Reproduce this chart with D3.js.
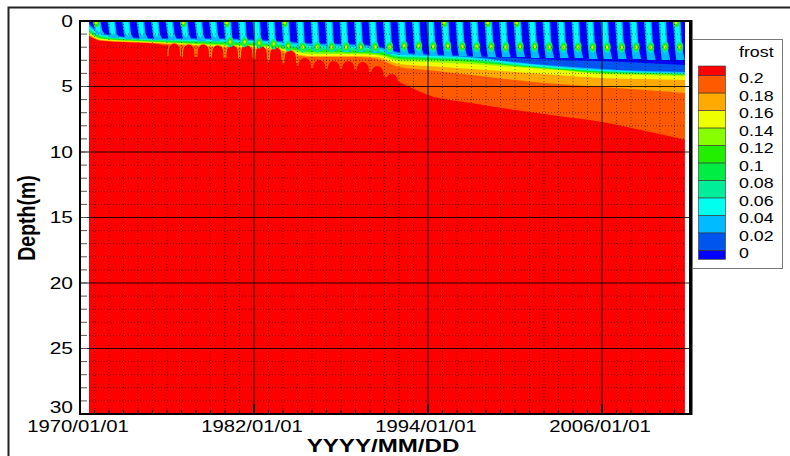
<!DOCTYPE html>
<html>
<head>
<meta charset="utf-8">
<title>frost</title>
<script src="https://cdn.jsdelivr.net/npm/d3@7"></script>
<style>
  body { margin: 0; background: #fff; }
  svg { display: block; font-family: "Liberation Sans", Arial, Helvetica, sans-serif; }
</style>
</head>
<body>
<svg id="chart" width="790" height="456"></svg>
<script>

// contour levels of frost, and fill colours below 0 ... above 0.2
const levels = [0, 0.02, 0.04, 0.06, 0.08, 0.1, 0.12, 0.14, 0.16, 0.18, 0.2]
const levelLabels = ['0', '0.02', '0.04', '0.06', '0.08', '0.1', '0.12', '0.14', '0.16', '0.18', '0.2']
const bandColors = ['#0000ff', '#0055ee', '#00bbff', '#00ffee', '#00ee99', '#00ee44',
    '#22ee00', '#88ff00', '#eeff00', '#ffaa00', '#ff5a00', '#ff0000']

const xTickYears = [1970, 1982, 1994, 2006]
const xTickLabels = ['1970/01/01', '1982/01/01', '1994/01/01', '2006/01/01']
const yTicks = [0, 5, 10, 15, 20, 25, 30]

// simulated period, decimal years
const dataStart = 1970.62
const dataEnd = 2011.72

// depth (m) of each contour line under the frozen top layer, read at these dates
const sampleYears = [1970.6, 1971.5, 1975, 1979, 1983, 1986, 1989, 1990.5, 1992, 1994, 1997, 2000, 2003, 2006, 2009, 2011.75]
const iso000 = [0.08, 0.92, 1.30, 1.30, 1.45, 1.68, 1.76, 1.91, 2.37, 2.52, 2.67, 2.82, 2.98, 3.05, 3.21, 3.36]
const iso002 = [0.23, 0.99, 1.37, 1.37, 1.53, 1.76, 1.83, 1.98, 2.44, 2.60, 2.75, 3.13, 3.44, 3.66, 3.82, 3.89]
const iso004 = [0.38, 1.07, 1.41, 1.45, 1.60, 1.91, 1.98, 2.14, 2.60, 2.67, 2.82, 3.21, 3.51, 3.74, 3.89, 3.97]
const iso006 = [0.53, 1.15, 1.45, 1.53, 1.68, 1.98, 2.06, 2.21, 2.67, 2.75, 2.90, 3.28, 3.59, 3.82, 3.93, 4.01]
const iso008 = [0.69, 1.22, 1.49, 1.60, 1.76, 2.14, 2.21, 2.29, 2.75, 2.82, 2.98, 3.36, 3.63, 3.85, 3.97, 4.05]
const iso010 = [0.76, 1.30, 1.53, 1.68, 1.83, 2.21, 2.29, 2.37, 2.82, 2.90, 3.05, 3.40, 3.66, 3.89, 4.01, 4.08]
const iso012 = [0.84, 1.34, 1.56, 1.76, 1.91, 2.37, 2.44, 2.52, 2.90, 2.98, 3.13, 3.44, 3.70, 3.97, 4.05, 4.12]
const iso014 = [0.92, 1.37, 1.60, 1.83, 1.98, 2.52, 2.52, 2.60, 3.05, 3.13, 3.28, 3.51, 3.74, 4.05, 4.12, 4.20]
const iso016 = [0.99, 1.45, 1.64, 1.91, 2.06, 2.67, 2.67, 2.75, 3.28, 3.44, 3.66, 3.89, 4.12, 4.35, 4.43, 4.50]
const iso018 = [1.07, 1.49, 1.68, 1.98, 2.21, 2.75, 2.75, 2.90, 3.51, 3.74, 4.12, 4.50, 4.81, 5.04, 5.27, 5.50]
const iso020 = [1.15, 1.53, 1.72, 2.67, 3.13, 3.59, 3.74, 4.05, 4.66, 5.65, 6.26, 6.79, 7.25, 7.71, 8.40, 9.08]
const isoLines = [iso000, iso002, iso004, iso006, iso008, iso010, iso012, iso014, iso016, iso018, iso020]

// yearly red (>0.2) bulges rising into the thaw front, top depth (m)
const capYears = d3.range(1976, 1992)
const capTop = [1.68, 1.76, 1.76, 1.83, 1.83, 1.83, 1.91, 1.98, 2.21, 2.82, 2.98, 3.05, 3.05, 3.13, 3.44, 4.05]

// seasonal stripes in the frozen layer: depth reached and depth of the green core (m)
const stripeYears = d3.range(1971, 2012)
const stripeBottom = [0.99, 1.30, 1.37, 1.37, 1.45, 1.45, 1.45, 1.53, 1.53, 1.60, 1.60, 1.68, 1.76, 2.06, 2.21, 2.29,
    2.29, 2.37, 2.37, 2.44, 2.52, 2.60, 2.60, 2.67, 2.67, 2.67, 2.75, 2.75, 2.75, 2.75, 2.82, 2.82, 2.82, 2.82,
    2.90, 2.90, 2.90, 2.90, 2.98, 2.98, 2.98]
const stripeCore = [null, null, null, null, null, null, null, null, null, 1.60, 1.60, 1.68, 1.76, 1.91, 1.98, 1.98,
    1.98, 1.98, 1.98, 1.98, 1.98, 1.91, 1.91, 1.95, 1.91, 1.95, 1.95, 1.95, 1.98, 1.95, 1.95, 1.98, 1.98, 1.98,
    2.0, 2.0, 2.0, 2.0, 2.0, 1.98, 1.98]
const tipYears = [1971, 1977, 1980, 1984, 1995, 1998, 2000, 2011]

function yearDate(t) {
    let yr = Math.floor(t)
    let a = Date.UTC(yr, 0, 1), b = Date.UTC(yr + 1, 0, 1)
    return new Date(a + (t - yr) * (b - a))
}

const svg = d3.select('#chart')

let x = d3.scaleUtc()
    .domain([yearDate(1970), yearDate(2012.07)])
    .range([80, 690])

let y = d3.scaleLinear()
    .domain([0, 30])
    .range([21, 414])

const px = t => x(yearDate(t))

function stretched(g, tx, ty) {
    return g.append('text').attr('transform', `translate(${tx},${ty}) scale(1.27,1)`)
}

svg.append('rect')
    .attr('x', 8.5).attr('y', 7.5).attr('width', 800).attr('height', 460)
    .attr('fill', '#fff').attr('stroke', '#222').attr('stroke-width', 2)

svg.append('clipPath').attr('id', 'field-clip')
    .append('rect')
    .attr('x', px(dataStart)).attr('y', y(0))
    .attr('width', px(dataEnd) - px(dataStart)).attr('height', y(30) - y(0))

let field = svg.append('g').attr('clip-path', 'url(#field-clip)')

field.append('rect')
    .attr('x', px(dataStart)).attr('y', y(0))
    .attr('width', px(dataEnd) - px(dataStart)).attr('height', y(30) - y(0))
    .attr('fill', bandColors[11])

let bandArea = d3.area()
    .x((d, j) => px(sampleYears[j]))
    .y0(y(0))
    .y1(d => y(d))
    .curve(d3.curveMonotoneX)

for (let i = isoLines.length - 1; i >= 0; i--) {
    field.append('path')
        .datum(isoLines[i])
        .attr('d', bandArea)
        .attr('fill', bandColors[i])
}

// red bulges with the narrow orange gaps between them
const capShape = [[0.04, 3], [0.06, 1], [0.15, 0.25], [0.5, 0], [0.85, 0.25], [0.94, 1], [0.96, 3]]
let capLine = d3.line().curve(d3.curveCatmullRom)

capYears.forEach((yr, i) => {
    let pts = capShape.map(([dt, dd]) => [px(yr + dt), y(capTop[i] + dd)])
    field.append('path')
        .attr('d', capLine(pts) + 'Z')
        .attr('fill', bandColors[11])
    if (capTop[i] < 2.5) {
        field.append('path')
            .attr('d', capLine(pts.slice(1, 6)))
            .attr('fill', 'none')
            .attr('stroke', bandColors[9])
            .attr('stroke-width', 1)
    }
})

let polyLine = d3.line().curve(d3.curveLinearClosed)

stripeYears.forEach((yr, i) => {
    let bot = stripeBottom[i]
    let core = stripeCore[i]
    let mid = core != null ? core : bot * 0.7
    let outer = [[yr - 0.1, 0], [yr + 0.42, 0], [yr + 0.52, mid], [yr + 0.7, bot], [yr + 0.12, bot], [yr + 0.02, mid]]
    let inner = [[yr, 0], [yr + 0.32, 0], [yr + 0.42, mid], [yr + 0.34, (mid + bot) / 2], [yr + 0.12, mid]]
    field.append('path')
        .attr('d', polyLine(outer.map(([t, d]) => [px(t), y(d)])))
        .attr('fill', bandColors[2])
    field.append('path')
        .attr('d', polyLine(inner.map(([t, d]) => [px(t), y(d)])))
        .attr('fill', bandColors[3])
    if (core != null) {
        let cx = px(yr + 0.36), cy = y(core)
        field.append('ellipse').attr('cx', cx).attr('cy', cy).attr('rx', 3.5).attr('ry', 5.5).attr('fill', bandColors[4])
        field.append('ellipse').attr('cx', cx).attr('cy', cy).attr('rx', 2.5).attr('ry', 3.5).attr('fill', bandColors[6])
        field.append('ellipse').attr('cx', cx).attr('cy', cy).attr('rx', 1.2).attr('ry', 1.8).attr('fill', bandColors[8])
    }
})

tipYears.forEach(yr => {
    field.append('ellipse').attr('cx', px(yr + 0.12)).attr('cy', y(0.15)).attr('rx', 2.8).attr('ry', 4).attr('fill', bandColors[6])
    field.append('ellipse').attr('cx', px(yr + 0.12)).attr('cy', y(0.1)).attr('rx', 1.3).attr('ry', 2).attr('fill', bandColors[8])
})

// dotted minor grid, one line a year and one a metre
let minorYears = d3.range(1971, 2012).filter(d => !xTickYears.includes(d))
let minorDepths = d3.range(1, 30).filter(d => d % 5 != 0)

field.selectAll('.vgrid')
    .data(minorYears)
    .enter().append('line')
        .attr('x1', d => px(d)).attr('x2', d => px(d))
        .attr('y1', y(0)).attr('y2', y(30))
        .attr('stroke', '#000').attr('stroke-opacity', 0.5)
        .attr('stroke-dasharray', '1,2')

field.selectAll('.hgrid')
    .data(minorDepths)
    .enter().append('line')
        .attr('x1', 80).attr('x2', 690)
        .attr('y1', d => y(d)).attr('y2', d => y(d))
        .attr('stroke', '#000').attr('stroke-opacity', 0.5)
        .attr('stroke-dasharray', '1,2')

let axes = svg.append('g')

axes.selectAll('.vmajor')
    .data(xTickYears.slice(1))
    .enter().append('line')
        .attr('x1', d => px(d)).attr('x2', d => px(d))
        .attr('y1', y(0)).attr('y2', y(30))
        .attr('stroke', '#000').attr('stroke-opacity', 0.85)

axes.selectAll('.hmajor')
    .data(yTicks.slice(1, -1))
    .enter().append('line')
        .attr('x1', 80).attr('x2', 690)
        .attr('y1', d => y(d)).attr('y2', d => y(d))
        .attr('stroke', '#000').attr('stroke-opacity', 0.85)

axes.selectAll('.ytick')
    .data(d3.range(1, 30))
    .enter().append('line')
        .attr('x1', 80).attr('x2', 87)
        .attr('y1', d => y(d)).attr('y2', d => y(d))
        .attr('stroke', '#555')

axes.selectAll('.xtick')
    .data(d3.range(1971, 2012))
    .enter().append('line')
        .attr('x1', d => px(d)).attr('x2', d => px(d))
        .attr('y1', y(30)).attr('y2', d => xTickYears.includes(d) ? y(30) - 10 : y(30) - 4)
        .attr('stroke', '#000')
        .attr('stroke-width', d => xTickYears.includes(d) ? 2 : 1)

axes.append('rect')
    .attr('x', 80).attr('y', y(0))
    .attr('width', 610).attr('height', y(30) - y(0))
    .attr('fill', 'none').attr('stroke', '#000').attr('stroke-width', 2)

axes.append('line')
    .attr('x1', 691).attr('x2', 691).attr('y1', y(0) - 1).attr('y2', y(30) + 1)
    .attr('stroke', '#000').attr('stroke-width', 3)

yTicks.forEach(d => {
    stretched(axes, 73, d == 30 ? y(d) - 7 : y(d))
        .attr('text-anchor', 'end')
        .attr('dy', '0.35em')
        .attr('font-size', 16.5)
        .text(d)
})

xTickYears.forEach((d, i) => {
    stretched(axes, px(d) - 2, 432)
        .attr('text-anchor', 'middle')
        .attr('font-size', 16)
        .text(xTickLabels[i])
})

stretched(axes, 383, 452)
    .attr('text-anchor', 'middle')
    .attr('font-size', 19)
    .attr('font-weight', 'bold')
    .text('YYYY/MM/DD')

axes.append('text')
    .attr('transform', 'translate(26,218) scale(1.27,1) rotate(-90)')
    .attr('text-anchor', 'middle')
    .attr('dy', '0.35em')
    .attr('font-size', 19.5)
    .attr('font-weight', 'bold')
    .text('Depth(m)')

// legend
let legend = svg.append('g')
let legendY = d3.scaleLinear().domain([0.2, 0]).range([75.5, 250.3])

legend.append('rect')
    .attr('x', 692.5).attr('y', 39.5).attr('width', 90).attr('height', 229)
    .attr('fill', '#fff').attr('stroke', '#777')

stretched(legend, 739, 57)
    .attr('font-size', 14)
    .text('frost')

bandColors.forEach((c, k) => {
    let top = k == 11 ? legendY(0.2) - 9.5 : legendY(levels[k])
    let bottom = k == 0 ? legendY(0) + 9 : legendY(levels[k - 1])
    legend.append('rect')
        .attr('x', 698.5).attr('y', top)
        .attr('width', 27).attr('height', bottom - top)
        .attr('fill', c)
        .attr('stroke', '#333').attr('stroke-width', 0.6)
})

levels.forEach((d, i) => {
    stretched(legend, 739, legendY(d) + 3)
        .attr('dy', '0.35em')
        .attr('font-size', 14)
        .text(levelLabels[i])
})

</script>
</body>
</html>
